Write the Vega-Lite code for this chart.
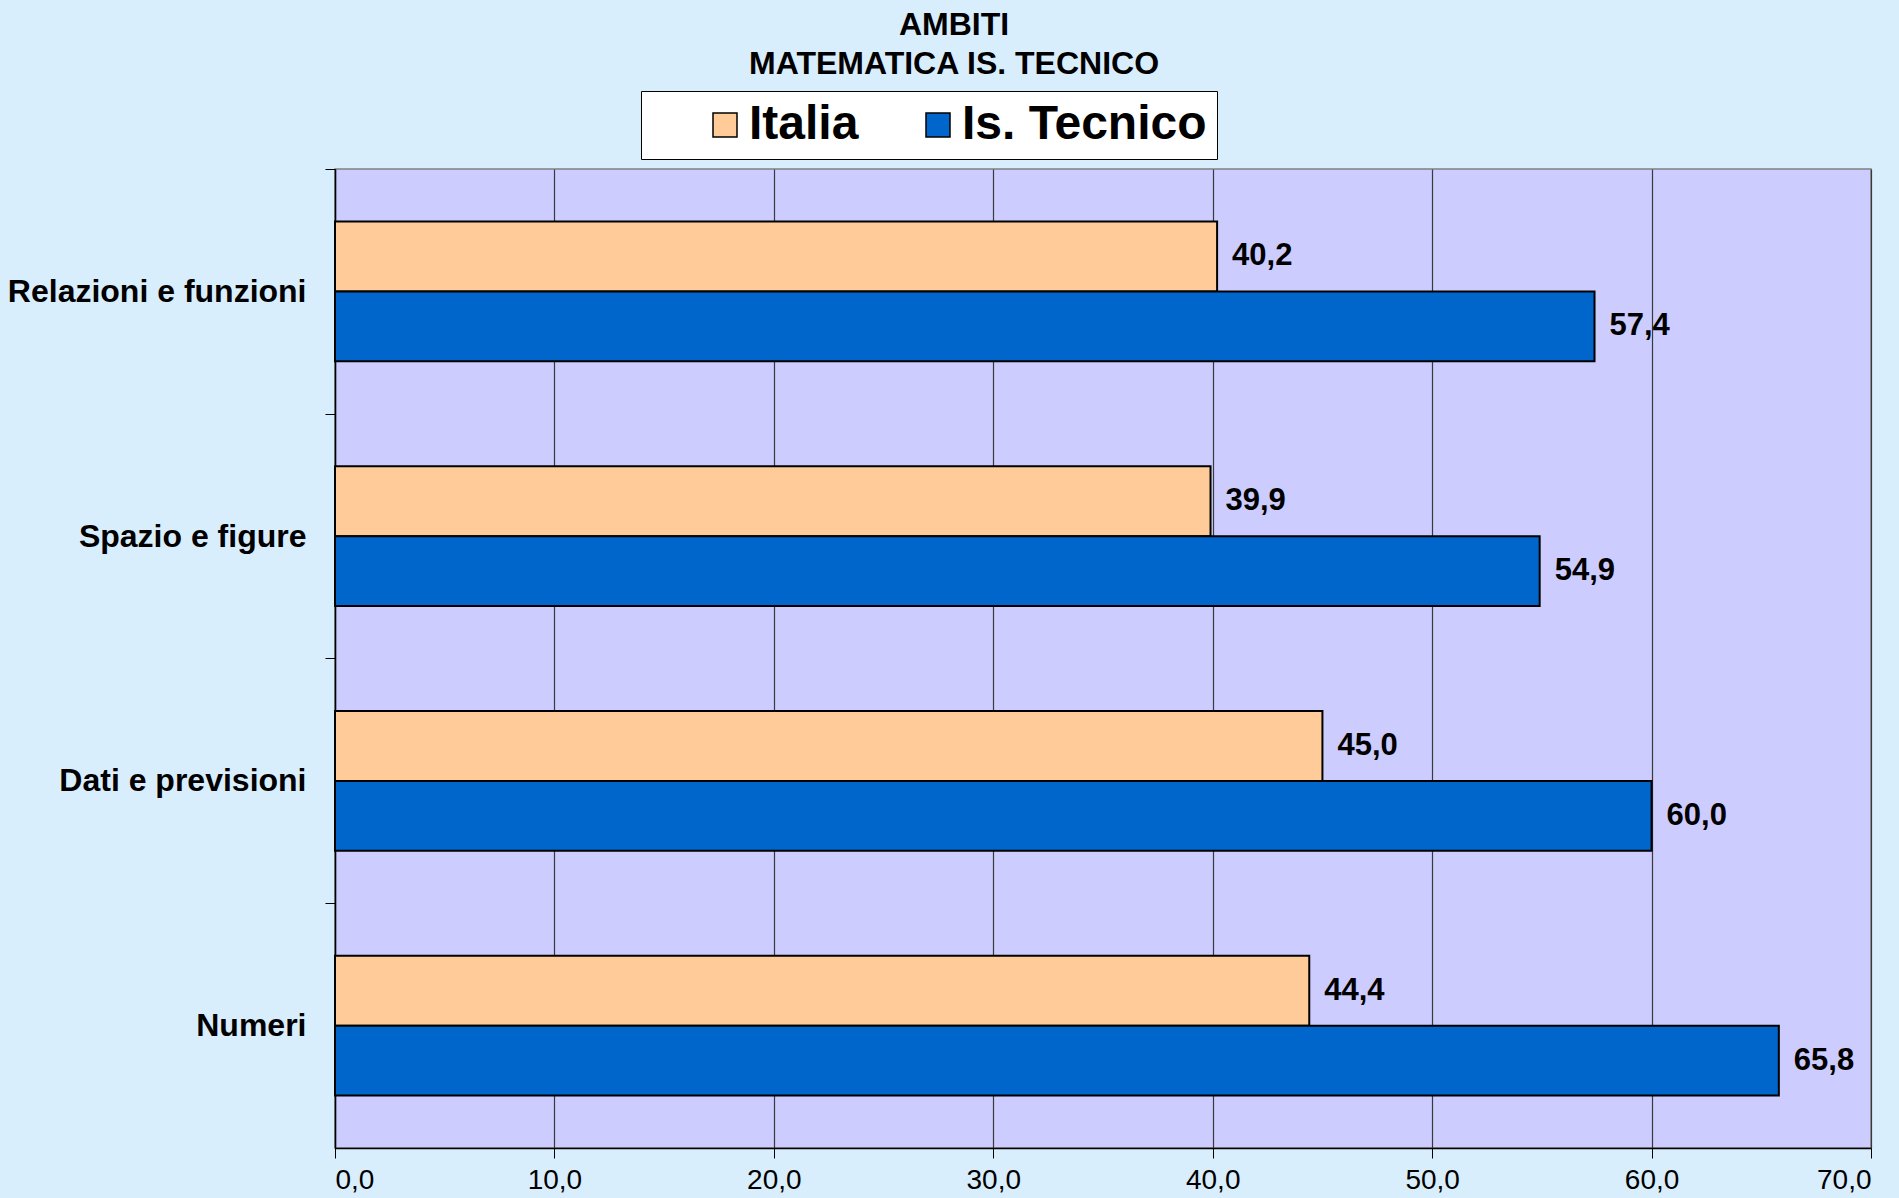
{
  "$schema": "https://vega.github.io/schema/vega-lite/v6.json",
  "autosize": "none",
  "width": 1536,
  "height": 979,
  "padding": {"left": 335, "top": 169, "right": 28, "bottom": 50},
  "background": "#D9EEFD",
  "title": {
    "text": ["AMBITI", "MATEMATICA IS. TECNICO"],
    "fontSize": 32,
    "fontWeight": "bold",
    "font": "Liberation Sans",
    "color": "#000000",
    "lineHeight": 39,
    "anchor": "middle",
    "dx": -149,
    "offset": 10
  },
  "config": {
    "font": "Liberation Sans",
    "locale": {"number": {"decimal": ",", "thousands": ".", "grouping": [3], "currency": ["€", ""]}},
    "view": {"fill": "#CCCCFF", "stroke": "#808080", "strokeWidth": 1.5}
  },
  "data": {
    "values": [
      {"ambito": "Relazioni e funzioni", "serie": "Italia", "valore": 40.2},
      {"ambito": "Relazioni e funzioni", "serie": "Is. Tecnico", "valore": 57.4},
      {"ambito": "Spazio e figure", "serie": "Italia", "valore": 39.9},
      {"ambito": "Spazio e figure", "serie": "Is. Tecnico", "valore": 54.9},
      {"ambito": "Dati e previsioni", "serie": "Italia", "valore": 45.0},
      {"ambito": "Dati e previsioni", "serie": "Is. Tecnico", "valore": 60.0},
      {"ambito": "Numeri", "serie": "Italia", "valore": 44.4},
      {"ambito": "Numeri", "serie": "Is. Tecnico", "valore": 65.8}
    ]
  },
  "encoding": {
    "y": {
      "field": "ambito",
      "type": "nominal",
      "sort": ["Relazioni e funzioni", "Spazio e figure", "Dati e previsioni", "Numeri"],
      "scale": {"paddingInner": 0.43, "paddingOuter": 0.215},
      "axis": {
        "title": null,
        "labelFontSize": 32,
        "labelFontWeight": "bold",
        "labelColor": "#000000",
        "labelPadding": 19,
        "labelLimit": 400,
        "labelOffset": 122.4,
        "tickSize": 10,
        "tickOffset": -122.4,
        "tickColor": "#000000",
        "domainColor": "#000000",
        "domainWidth": 1.5,
        "grid": false
      }
    },
    "yOffset": {
      "field": "serie",
      "type": "nominal",
      "sort": ["Italia", "Is. Tecnico"],
      "scale": {"paddingInner": 0, "paddingOuter": 0}
    },
    "x": {
      "field": "valore",
      "type": "quantitative",
      "scale": {"domain": [0, 70], "nice": false},
      "axis": {
        "title": null,
        "values": [0, 10, 20, 30, 40, 50, 60, 70],
        "format": ".1f",
        "labelFontSize": 28,
        "labelColor": "#000000",
        "labelPadding": 8,
        "tickSize": 10,
        "tickColor": "#000000",
        "domainColor": "#000000",
        "domainWidth": 1.5,
        "grid": true,
        "gridColor": "#3A3A3A",
        "gridWidth": 1.2
      }
    }
  },
  "layer": [
    {
      "mark": {"type": "bar", "stroke": "#000000", "strokeWidth": 2},
      "encoding": {
        "color": {
          "field": "serie",
          "type": "nominal",
          "sort": ["Italia", "Is. Tecnico"],
          "scale": {"domain": ["Italia", "Is. Tecnico"], "range": ["#FFCC99", "#0066CC"]},
          "legend": {
            "title": null,
            "orient": "none",
            "direction": "horizontal",
            "legendX": 306,
            "legendY": -78,
            "fillColor": "#FFFFFF",
            "strokeColor": "#000000",
            "padding": 10,
            "symbolType": "square",
            "symbolSize": 576,
            "symbolStrokeColor": "#000000",
            "symbolStrokeWidth": 1.5,
            "symbolOffset": 50,
            "labelOffset": 0,
            "labelFontSize": 48,
            "labelFontWeight": "bold",
            "labelColor": "#000000",
            "labelLimit": 500,
            "columnPadding": 5
          }
        }
      }
    },
    {
      "mark": {"type": "text", "align": "left", "baseline": "middle", "dx": 15, "fontSize": 31, "fontWeight": "bold", "color": "#000000"},
      "encoding": {
        "text": {"field": "valore", "type": "quantitative", "format": ".1f"}
      }
    }
  ]
}
